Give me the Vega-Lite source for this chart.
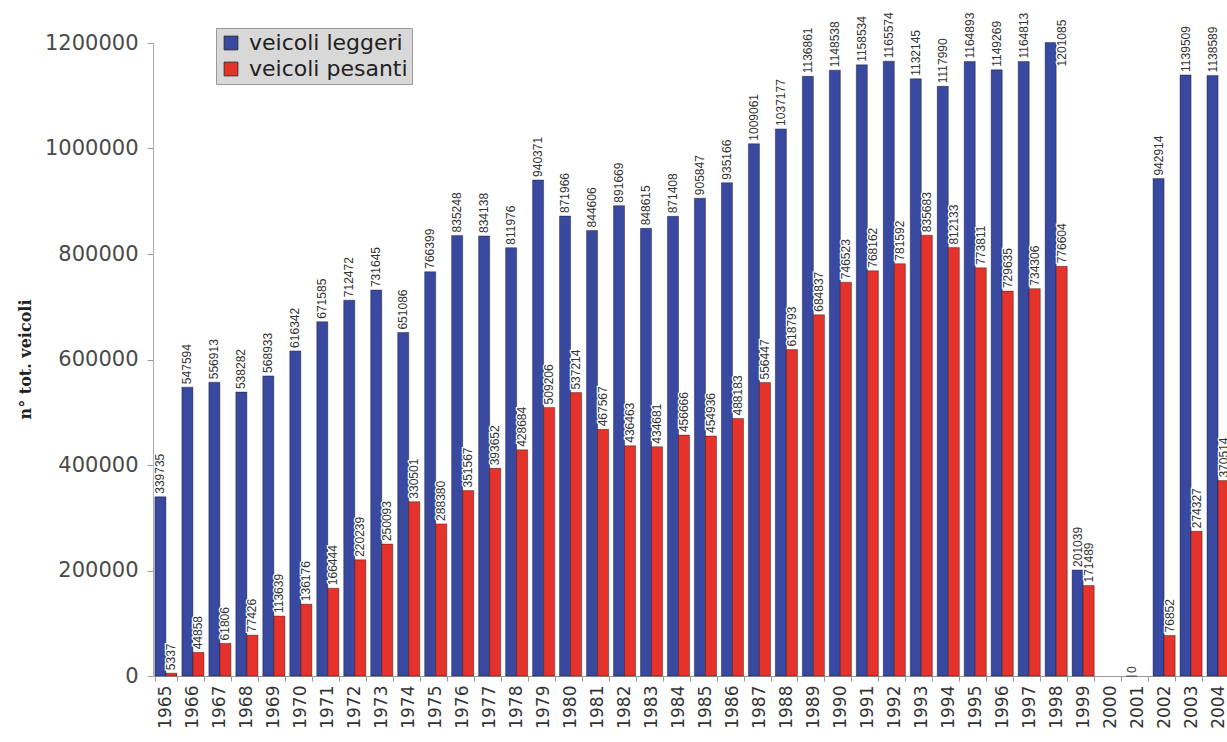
{
  "$schema": "https://vega.github.io/schema/vega-lite/v6.json",
  "autosize": {"type": "none"},
  "padding": {"left": 153, "top": 43, "right": 0, "bottom": 66},
  "width": 1074,
  "height": 633,
  "background": "white",
  "view": {"stroke": null},
  "data": {"values": [
    {"anno":"1965","tipo":"veicoli leggeri","n":339735},{"anno":"1965","tipo":"veicoli pesanti","n":5337},
    {"anno":"1966","tipo":"veicoli leggeri","n":547594},{"anno":"1966","tipo":"veicoli pesanti","n":44858},
    {"anno":"1967","tipo":"veicoli leggeri","n":556913},{"anno":"1967","tipo":"veicoli pesanti","n":61806},
    {"anno":"1968","tipo":"veicoli leggeri","n":538282},{"anno":"1968","tipo":"veicoli pesanti","n":77426},
    {"anno":"1969","tipo":"veicoli leggeri","n":568933},{"anno":"1969","tipo":"veicoli pesanti","n":113639},
    {"anno":"1970","tipo":"veicoli leggeri","n":616342},{"anno":"1970","tipo":"veicoli pesanti","n":136176},
    {"anno":"1971","tipo":"veicoli leggeri","n":671585},{"anno":"1971","tipo":"veicoli pesanti","n":166444},
    {"anno":"1972","tipo":"veicoli leggeri","n":712472},{"anno":"1972","tipo":"veicoli pesanti","n":220239},
    {"anno":"1973","tipo":"veicoli leggeri","n":731645},{"anno":"1973","tipo":"veicoli pesanti","n":250093},
    {"anno":"1974","tipo":"veicoli leggeri","n":651086},{"anno":"1974","tipo":"veicoli pesanti","n":330501},
    {"anno":"1975","tipo":"veicoli leggeri","n":766399},{"anno":"1975","tipo":"veicoli pesanti","n":288380},
    {"anno":"1976","tipo":"veicoli leggeri","n":835248},{"anno":"1976","tipo":"veicoli pesanti","n":351567},
    {"anno":"1977","tipo":"veicoli leggeri","n":834138},{"anno":"1977","tipo":"veicoli pesanti","n":393652},
    {"anno":"1978","tipo":"veicoli leggeri","n":811976},{"anno":"1978","tipo":"veicoli pesanti","n":428684},
    {"anno":"1979","tipo":"veicoli leggeri","n":940371},{"anno":"1979","tipo":"veicoli pesanti","n":509206},
    {"anno":"1980","tipo":"veicoli leggeri","n":871966},{"anno":"1980","tipo":"veicoli pesanti","n":537214},
    {"anno":"1981","tipo":"veicoli leggeri","n":844606},{"anno":"1981","tipo":"veicoli pesanti","n":467567},
    {"anno":"1982","tipo":"veicoli leggeri","n":891669},{"anno":"1982","tipo":"veicoli pesanti","n":436463},
    {"anno":"1983","tipo":"veicoli leggeri","n":848615},{"anno":"1983","tipo":"veicoli pesanti","n":434681},
    {"anno":"1984","tipo":"veicoli leggeri","n":871408},{"anno":"1984","tipo":"veicoli pesanti","n":456666},
    {"anno":"1985","tipo":"veicoli leggeri","n":905847},{"anno":"1985","tipo":"veicoli pesanti","n":454936},
    {"anno":"1986","tipo":"veicoli leggeri","n":935166},{"anno":"1986","tipo":"veicoli pesanti","n":488183},
    {"anno":"1987","tipo":"veicoli leggeri","n":1009061},{"anno":"1987","tipo":"veicoli pesanti","n":556447},
    {"anno":"1988","tipo":"veicoli leggeri","n":1037177},{"anno":"1988","tipo":"veicoli pesanti","n":618793},
    {"anno":"1989","tipo":"veicoli leggeri","n":1136861},{"anno":"1989","tipo":"veicoli pesanti","n":684837},
    {"anno":"1990","tipo":"veicoli leggeri","n":1148538},{"anno":"1990","tipo":"veicoli pesanti","n":746523},
    {"anno":"1991","tipo":"veicoli leggeri","n":1158534},{"anno":"1991","tipo":"veicoli pesanti","n":768162},
    {"anno":"1992","tipo":"veicoli leggeri","n":1165574},{"anno":"1992","tipo":"veicoli pesanti","n":781592},
    {"anno":"1993","tipo":"veicoli leggeri","n":1132145},{"anno":"1993","tipo":"veicoli pesanti","n":835683},
    {"anno":"1994","tipo":"veicoli leggeri","n":1117990},{"anno":"1994","tipo":"veicoli pesanti","n":812133},
    {"anno":"1995","tipo":"veicoli leggeri","n":1164893},{"anno":"1995","tipo":"veicoli pesanti","n":773811},
    {"anno":"1996","tipo":"veicoli leggeri","n":1149269},{"anno":"1996","tipo":"veicoli pesanti","n":729635},
    {"anno":"1997","tipo":"veicoli leggeri","n":1164813},{"anno":"1997","tipo":"veicoli pesanti","n":734306},
    {"anno":"1998","tipo":"veicoli leggeri","n":1201085},{"anno":"1998","tipo":"veicoli pesanti","n":776604},
    {"anno":"1999","tipo":"veicoli leggeri","n":201039},{"anno":"1999","tipo":"veicoli pesanti","n":171489},
    {"anno":"2001","tipo":"veicoli leggeri","n":0},
    {"anno":"2002","tipo":"veicoli leggeri","n":942914},{"anno":"2002","tipo":"veicoli pesanti","n":76852},
    {"anno":"2003","tipo":"veicoli leggeri","n":1139509},{"anno":"2003","tipo":"veicoli pesanti","n":274327},
    {"anno":"2004","tipo":"veicoli leggeri","n":1138589},{"anno":"2004","tipo":"veicoli pesanti","n":370514}
  ]},
  "encoding": {
    "x": {
      "field": "anno", "type": "nominal",
      "scale": {
        "domain": ["1965","1966","1967","1968","1969","1970","1971","1972","1973","1974","1975","1976","1977","1978","1979","1980","1981","1982","1983","1984","1985","1986","1987","1988","1989","1990","1991","1992","1993","1994","1995","1996","1997","1998","1999","2000","2001","2002","2003","2004"],
        "range": [0, 1078],
        "paddingInner": 0.18, "paddingOuter": 0.07
      },
      "axis": {
        "title": null, "labelAngle": -90, "labelAlign": "right", "labelBaseline": "middle",
        "labelFont": "DejaVu Sans", "labelFontSize": 17, "labelColor": "#333",
        "labelPadding": 4, "tickBand": "extent", "tickSize": 5, "tickColor": "#999",
        "domainColor": "#999", "grid": false
      }
    },
    "xOffset": {"field": "tipo", "type": "nominal", "scale": {"domain": ["veicoli leggeri","veicoli pesanti"]}}
  },
  "layer": [
    {
      "mark": {"type": "bar", "stroke": "#000", "strokeWidth": 0.8, "strokeOpacity": 0.45},
      "encoding": {
        "y": {
          "field": "n", "type": "quantitative",
          "scale": {"domain": [0, 1200000], "nice": false},
          "axis": {
            "title": "n° tot. veicoli", "values": [0,200000,400000,600000,800000,1000000,1200000],
            "format": "d", "labelFont": "DejaVu Sans", "labelFontSize": 21, "labelColor": "#4a4a4a",
            "labelPadding": 9, "tickSize": 6, "tickColor": "#999", "domainColor": "#aaa", "grid": false,
            "titleFont": "DejaVu Serif", "titleFontSize": 16, "titleFontWeight": "bold", "titleColor": "#222",
            "titleAngle": 270, "titleX": -128, "titleY": 316, "titleAlign": "center", "titleBaseline": "middle"
          }
        },
        "color": {
          "field": "tipo", "type": "nominal",
          "scale": {"domain": ["veicoli leggeri","veicoli pesanti"], "range": ["#3949A0","#E5322A"]},
          "legend": {
            "orient": "none", "legendX": 63, "legendY": -15, "title": null,
            "fillColor": "#d8d8d8", "strokeColor": "#999", "padding": 4,
            "labelFont": "DejaVu Sans", "labelFontSize": 22, "labelColor": "#222", "labelOffset": 7,
            "symbolType": "square", "symbolSize": 190, "symbolStrokeColor": "#222", "symbolStrokeWidth": 0.8,
            "rowPadding": 4
          }
        }
      }
    },
    {
      "transform": [
        {"calculate": "datum.n > 1180000 ? 1150000 : datum.n", "as": "ly"},
        {"calculate": "datum.n > 1180000 ? 'veicoli pesanti' : datum.tipo", "as": "lo"}
      ],
      "mark": {"type": "text", "angle": 270, "align": "left", "baseline": "middle", "dx": 3,
               "font": "Liberation Sans", "fontSize": 12, "fill": "white", "stroke": "white", "strokeWidth": 2.5},
      "encoding": {
        "y": {"field": "ly", "type": "quantitative", "title": "n° tot. veicoli"},
        "xOffset": {"field": "lo", "type": "nominal"},
        "text": {"field": "n", "type": "quantitative", "format": "d"}
      }
    },
    {
      "transform": [
        {"calculate": "datum.n > 1180000 ? 1150000 : datum.n", "as": "ly"},
        {"calculate": "datum.n > 1180000 ? 'veicoli pesanti' : datum.tipo", "as": "lo"}
      ],
      "mark": {"type": "text", "angle": 270, "align": "left", "baseline": "middle", "dx": 3,
               "font": "Liberation Sans", "fontSize": 12, "color": "#333"},
      "encoding": {
        "y": {"field": "ly", "type": "quantitative", "title": "n° tot. veicoli"},
        "xOffset": {"field": "lo", "type": "nominal"},
        "text": {"field": "n", "type": "quantitative", "format": "d"}
      }
    }
  ]
}
